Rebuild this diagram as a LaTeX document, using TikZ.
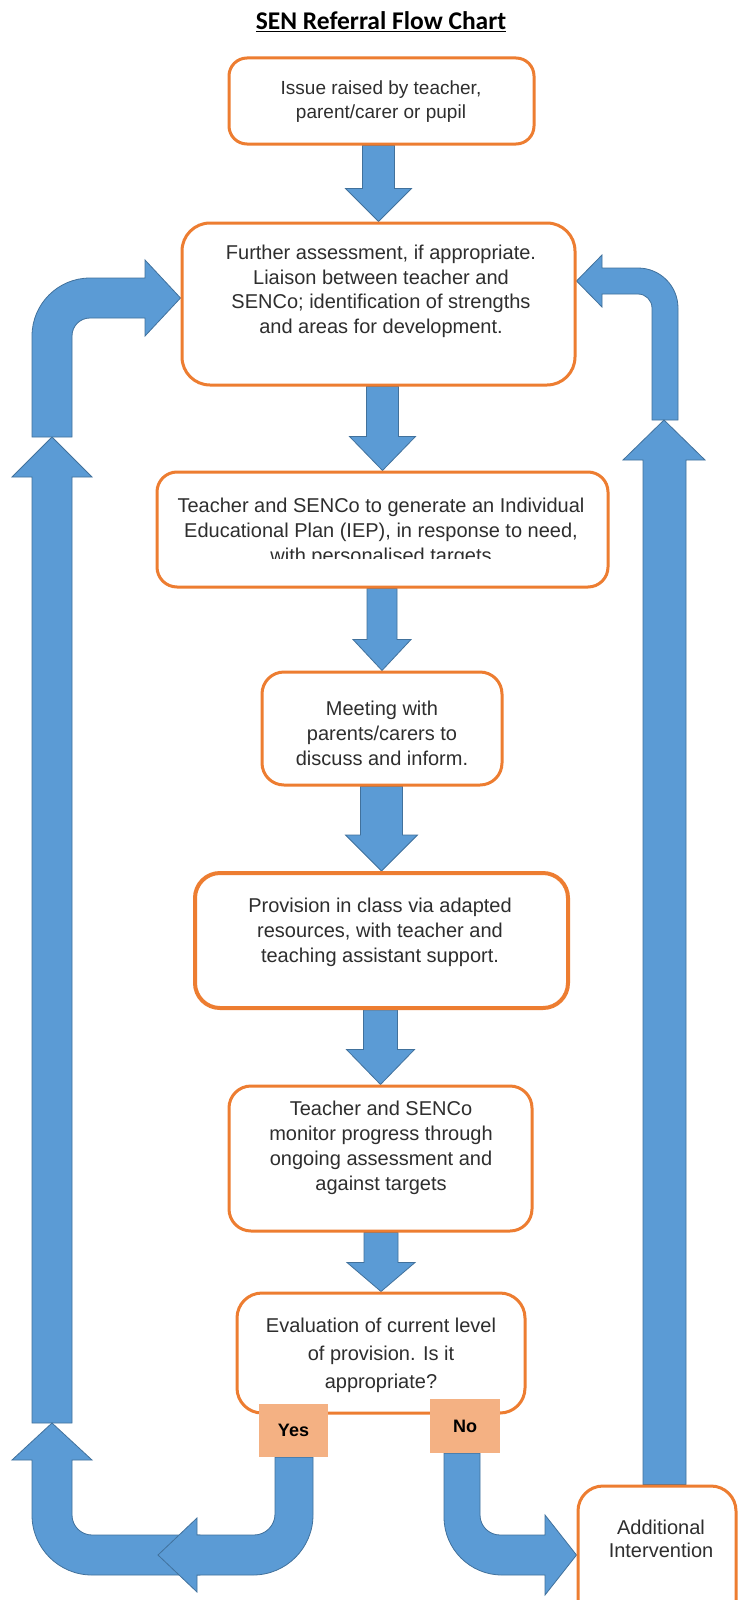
\documentclass[tikz,border=0pt]{standalone}
\usepackage{fontspec}
\setmainfont{Liberation Sans}
\newfontfamily\titlefont{Carlito}
\usetikzlibrary{calc,backgrounds}
\definecolor{orng}{HTML}{ED7D31}
\definecolor{blueF}{HTML}{5B9BD5}
\definecolor{blueD}{HTML}{41719C}
\definecolor{peach}{HTML}{F4B183}
\definecolor{txtc}{HTML}{2E2E2E}
\tikzset{
  box/.style={draw=orng, line width=3pt, fill=white, rounded corners=#1},
  box/.default=20pt,
  txt/.style={align=center, text=txtc, inner sep=0pt, font=\fontsize{20}{24.5}\selectfont},
  lab/.style={fill=peach, inner sep=0pt, text=black, font=\bfseries\fontsize{18}{20}\selectfont},
  blk/.style={fill=blueF, draw=blueD, line width=0.8pt, line join=miter},
}
% #1 upper node, #2 lower node, #3 half shaft, #4 half head, #5 head length
\newcommand\blkdown[5]{%
  \filldraw[blk] ($(#2.north|-#1.south)+(-#3,0)$) -- ($(#2.north)+(-#3,-#5)$) -- ($(#2.north)+(-#4,-#5)$) -- (#2.north) -- ($(#2.north)+(#4,-#5)$) -- ($(#2.north)+(#3,-#5)$) -- ($(#2.north|-#1.south)+(#3,0)$) -- cycle;}
\begin{document}
\begin{tikzpicture}[x=1pt,y=-1pt]
\useasboundingbox (0,0) rectangle (739,1600);

% title
\node[anchor=base, inner sep=0pt, font=\titlefont\bfseries\fontsize{25.5}{28}\selectfont] (title) at (381,30) {\underline{SEN Referral Flow Chart}};

% boxes
\node[box=18pt, minimum width=305pt, minimum height=86pt] (b1) at (381.5,101) {};
\node[box=28pt, minimum width=393pt, minimum height=162pt] (b2) at (378.5,304) {};
\node[box=20pt, minimum width=451pt, minimum height=115pt] (b3) at (382.5,529.5) {};
\node[box=22pt, minimum width=240pt, minimum height=113pt] (b4) at (382,728.5) {};
\node[box=25pt, line width=4pt, minimum width=373pt, minimum height=135pt] (b5) at (381.5,940.5) {};
\node[box=22pt, minimum width=303pt, minimum height=145pt] (b6) at (380.5,1158.5) {};
\node[box=25pt, minimum width=288pt, minimum height=120pt] (b7) at (381,1353) {};
\node[box=25pt, minimum width=158pt, minimum height=164pt] (ai) at (657,1568) {};

% texts
\node[txt, font=\fontsize{19}{24}\selectfont] (t1) at (381,102) {Issue raised by teacher,\\parent/carer or pupil};
\node[txt] (t2) at (381,291.5) {Further assessment, if appropriate.\\Liaison between teacher and\\SENCo; identification of strengths\\and areas for development.};
\node[txt] (t3) at (381,520) {Teacher and SENCo to generate an Individual\\Educational Plan (IEP), in response to need,};
\begin{scope}
  \clip (150,540) rectangle (610,558.5);
  \node[txt] (t3b) at (381,557) {with personalised targets};
\end{scope}
\node[txt, font=\fontsize{20}{25}\selectfont] (t4) at (382,733) {Meeting with\\parents/carers to\\discuss and inform.};
\node[txt, font=\fontsize{20}{25}\selectfont] (t5) at (380,932) {Provision in class via adapted\\resources, with teacher and\\teaching assistant support.};
\node[txt, font=\fontsize{20}{25}\selectfont] (t6) at (381,1147.5) {Teacher and SENCo\\monitor progress through\\ongoing assessment and\\against targets};
\node[txt, font=\fontsize{20}{28}\selectfont] (t7) at (381,1355) {Evaluation of current level\\of provision. Is it\\appropriate?};
\node[txt, font=\fontsize{20}{23}\selectfont] (tai) at (661,1538.5) {Additional\\Intervention};

% labels
\node[lab, minimum width=69pt, minimum height=53pt] (yes) at (293.5,1430.5) {Yes};
\node[lab, minimum width=70pt, minimum height=54pt] (no) at (465,1426) {No};

\begin{pgfonlayer}{background}
\fill[white] (0,0) rectangle (739,1600);
% straight arrows between boxes
\blkdown{b1}{b2}{16}{33}{33}
\blkdown{b2}{b3}{16}{33}{34}
\blkdown{b3}{b4}{15}{29}{31}
\blkdown{b4}{b5}{21}{36}{36}
\blkdown{b5}{b6}{17}{34}{35}
\blkdown{b6}{b7}{17}{34}{29}
% left long up arrow
\filldraw[blk] (32,1423) -- (32,477) -- (12,477) -- (52,437) -- (92,477) -- (72,477) -- (72,1423) -- cycle;
% left bottom U arrow (up)
\filldraw[blk] (200,1535) -- (92,1535) .. controls (81,1535) and (72,1526) .. (72,1515) -- (72,1460) -- (92,1460) -- (52,1423) -- (12,1460) -- (32,1460) -- (32,1515) .. controls (32,1548.1) and (58.9,1575) .. (92,1575) -- (200,1575) -- cycle;
% Yes arrow
\filldraw[blk] (yes.south -| 275,0) -- (yes.south -| 313,0) -- (313,1515) .. controls (313,1548.1) and (286.1,1575) .. (253,1575) -- (197,1575) -- (197,1592) -- (158,1555) -- (197,1518) -- (197,1535) -- (254,1535) .. controls (265.6,1535) and (275,1525.6) .. (275,1514) -- cycle;
% left top curved arrow into b2
\filldraw[blk] (32,437) -- (32,336) .. controls (32,304) and (58,278) .. (90,278) -- (145,278) -- (145,260) -- (b2.west |- 0,298) -- (145,336) -- (145,318) -- (90,318) .. controls (80,318) and (72,326) .. (72,336) -- (72,437) -- cycle;
% right top curved arrow into b2
\filldraw[blk] (652,420) -- (652,308) .. controls (652,300.3) and (645.7,294) .. (638,294) -- (602,294) -- (602,307) -- (b2.east |- 0,281) -- (602,255) -- (602,268) -- (638,268) .. controls (660.1,268) and (678,285.9) .. (678,308) -- (678,420) -- cycle;
% right long up arrow from Additional Intervention
\filldraw[blk] (643,0 |- ai.north) -- (643,460) -- (623,460) -- (664,420) -- (705,460) -- (686,460) -- (686,0 |- ai.north) -- cycle;
% No arrow
\filldraw[blk] (no.south -| 444,0) -- (444,1517) .. controls (444,1549) and (470,1575) .. (502,1575) -- (545,1575) -- (545,1595) -- (ai.west |- 0,1555) -- (545,1515) -- (545,1535) -- (500,1535) .. controls (489,1535) and (480,1526) .. (480,1515) -- (no.south -| 480,0) -- cycle;
\end{pgfonlayer}
\end{tikzpicture}
\end{document}
